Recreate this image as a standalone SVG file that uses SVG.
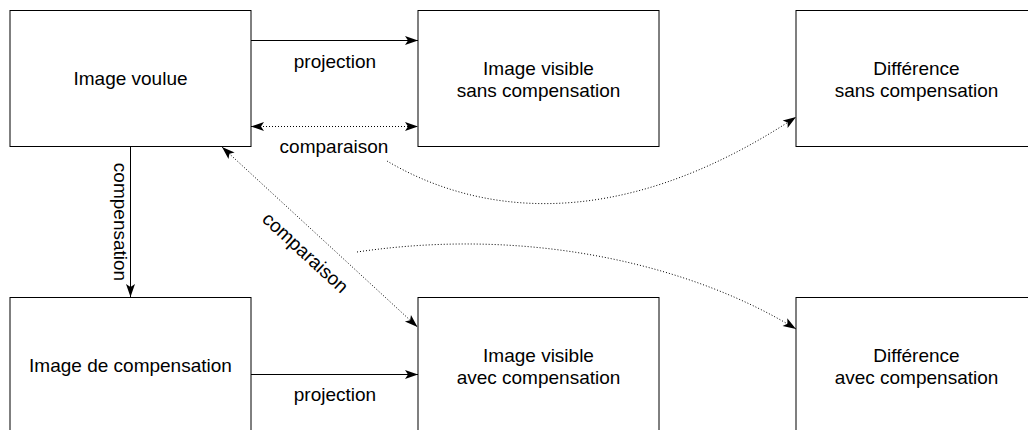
<svg xmlns="http://www.w3.org/2000/svg" width="1028" height="430" viewBox="0 0 1028 430">
<style>
.box{fill:#fff;stroke:#000;stroke-width:1}
.t{font-family:"Liberation Sans",Arial,sans-serif;font-size:19px;fill:#000;text-anchor:middle}
.ln{fill:none;stroke:#000;stroke-width:1}
.dot{fill:none;stroke:#000;stroke-width:1;stroke-dasharray:1 2}
</style>
<defs>
<marker id="ah" markerUnits="userSpaceOnUse" markerWidth="16" markerHeight="12" viewBox="-14 -6 16 12" refX="0" refY="0" orient="auto-start-reverse">
<path d="M0,0 L-13,-4.5 L-10,0 L-13,4.5 Z" fill="#000"/>
</marker>
</defs>
<rect width="1028" height="430" fill="#fff"/>
<g id="connectors">
<line class="ln" x1="251" y1="40.5" x2="418" y2="40.5" marker-end="url(#ah)"/>
<line class="dot" x1="251" y1="126.5" x2="418" y2="126.5" marker-start="url(#ah)" marker-end="url(#ah)"/>
<line class="ln" x1="130.5" y1="146.5" x2="130.5" y2="297" marker-end="url(#ah)"/>
<line class="dot" x1="222" y1="147" x2="417.5" y2="327" marker-start="url(#ah)" marker-end="url(#ah)"/>
<line class="ln" x1="251" y1="374.5" x2="418" y2="374.5" marker-end="url(#ah)"/>
<path class="dot" d="M387,161 C470,210 610,240 796,117" marker-end="url(#ah)"/>
<path class="dot" d="M357,252 C540,225 700,270 796,329" marker-end="url(#ah)"/>
<text class="t" x="335" y="68">projection</text>
<text class="t" x="334" y="153">comparaison</text>
<text class="t" x="335" y="401">projection</text>
<text class="t" transform="translate(113.5,222) rotate(90)" x="0" y="0">compensation</text>
<text class="t" transform="translate(304,254) rotate(42.6)" x="0" y="4.5">comparaison</text>
</g>
<g id="n1">
<rect class="box" x="10" y="10.5" width="241" height="136"/>
<text class="t" x="130.5" y="84.5">Image voulue</text>
</g>
<g id="n2">
<rect class="box" x="418" y="10.5" width="241" height="136"/>
<text class="t" x="538.5" y="75">Image visible</text>
<text class="t" x="538.5" y="96.5">sans compensation</text>
</g>
<g id="n3">
<rect class="box" x="796" y="10.5" width="241" height="136"/>
<text class="t" x="916.5" y="75">Différence</text>
<text class="t" x="916.5" y="96.5">sans compensation</text>
</g>
<g id="n4">
<rect class="box" x="10" y="297.5" width="241" height="136"/>
<text class="t" x="130.5" y="372">Image de compensation</text>
</g>
<g id="n5">
<rect class="box" x="418" y="297.5" width="241" height="136"/>
<text class="t" x="538.5" y="362">Image visible</text>
<text class="t" x="538.5" y="383.5">avec compensation</text>
</g>
<g id="n6">
<rect class="box" x="796" y="297.5" width="241" height="136"/>
<text class="t" x="916.5" y="362">Différence</text>
<text class="t" x="916.5" y="383.5">avec compensation</text>
</g>
</svg>
